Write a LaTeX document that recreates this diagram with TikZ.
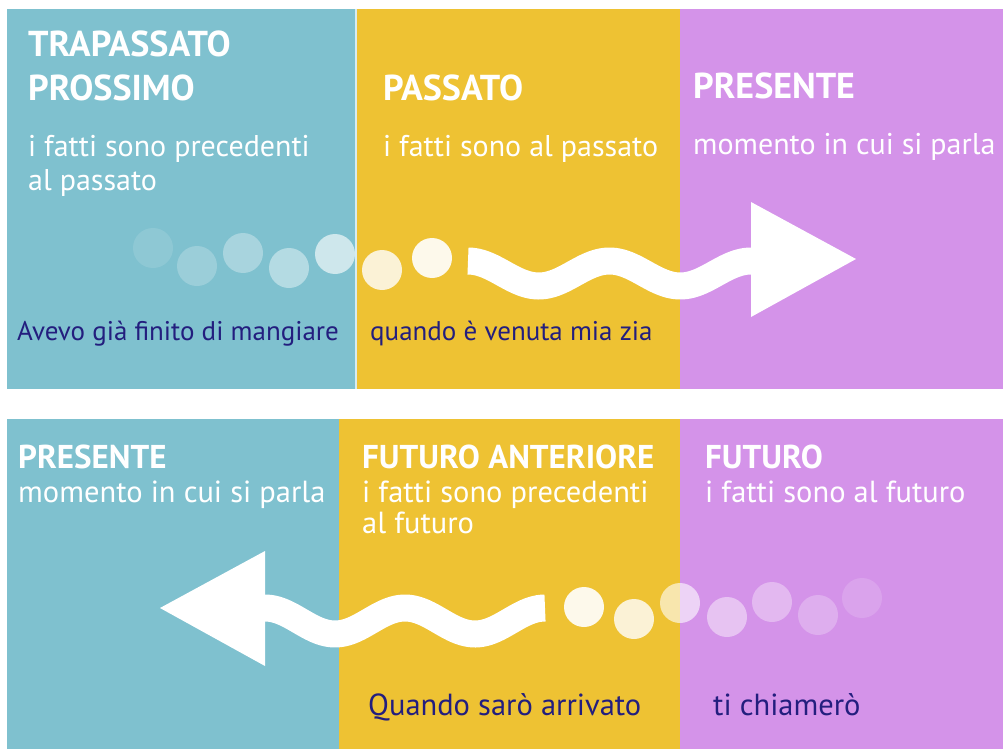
\documentclass[tikz,border=0pt]{standalone}
\usepackage{fontspec}
\setmainfont{PT Sans}
\definecolor{azzurro}{HTML}{7FC1CF}
\definecolor{giallo}{HTML}{EEC233}
\definecolor{lilla}{HTML}{D493E9}
\definecolor{blu}{HTML}{231E7E}
\begin{document}
\begin{tikzpicture}[x=1pt, y=-1pt,
	hdr/.style={anchor=base west, inner sep=0pt, text=white, align=left, font=\fontsize{36}{44}\selectfont\bfseries},
	hdrb/.style={hdr, font=\fontsize{33}{33}\selectfont\bfseries},
	txt/.style={anchor=base west, inner sep=0pt, text=white, align=left, font=\fontsize{30}{34}\selectfont},
	txtb/.style={txt, font=\fontsize{30.5}{31}\selectfont},
	ex/.style={anchor=base west, inner sep=0pt, text=blu, font=\fontsize{27}{27}\selectfont},
	exb/.style={ex, font=\fontsize{30.5}{30.5}\selectfont},
	blob/.style={circle, fill=white, draw=none, inner sep=0pt, minimum size=40pt, fill opacity=#1},
	wave/.style={draw=white, line width=27pt},]
	\useasboundingbox (0,0) rectangle (1003,749);
	% top: passato
	\fill[azzurro] (7,9) rectangle (356,389);
	\fill[giallo] (356,9) rectangle (680,389);
	\fill[lilla] (680,9) rectangle (1003,389);
	\draw[white!70!azzurro, line width=1.5pt] (356,9) -- (356,389);
	\node[hdr] (trap) at (28,101) {TRAPASSATO\\PROSSIMO};
	\node[txt] (trapt) at (28,190) {i fatti sono precedenti\\al passato};
	\node[ex] (trape) at (17,340) {Avevo già finito di mangiare};
	\node[hdr] (pass) at (383,101) {PASSATO};
	\node[txt] (passt) at (383,156) {i fatti sono al passato};
	\node[ex] (passe) at (370,340) {quando è venuta mia zia};
	\node[hdr] (pres) at (693,99) {PRESENTE};
	\node[txt] (prest) at (693,154) {momento in cui si parla};
	\foreach \x/\y/\o [count=\i] in {153/248/0.12, 197/266/0.22, 243/253/0.32, 289/268/0.42,
		335/254/0.62, 382/270/0.8, 432/258/0.9}
		\node[blob=\o] (p\i) at (\x,\y) {};
	\draw[wave] plot[domain=468:752, samples=90] (\x, {273.5-12.5*cos((\x-468)/70.75*180)});
	\coordinate (pa) at (751,202);
	\coordinate (pt) at (856,259);
	\coordinate (pb) at (751,317);
	\fill[white] (pa) -- (pt) -- (pb) -- cycle;
	% bottom: futuro
	\fill[azzurro] (7,419) rectangle (339,749);
	\fill[giallo] (339,419) rectangle (680,749);
	\fill[lilla] (680,419) rectangle (1003,749);
	\node[hdrb] (pres2) at (18,468) {PRESENTE};
	\node[txtb] (pres2t) at (18,502) {momento in cui si parla};
	\node[hdrb] (fant) at (362,468) {FUTURO ANTERIORE};
	\node[txtb] (fantt) at (362,533) {i fatti sono precedenti\\al futuro};
	\node[exb] (fante) at (368,715) {Quando sarò arrivato};
	\node[hdrb] (fut) at (705,468) {FUTURO};
	\node[txtb] (futt) at (705,502) {i fatti sono al futuro};
	\node[exb] (fute) at (713,715) {ti chiamerò};
	\foreach \x/\y/\o [count=\i] in {584/607/0.9, 634/619/0.8, 680/603/0.6, 727/617/0.45,
		772/602/0.35, 818/615/0.25, 862/598/0.15}
		\node[blob=\o] (f\i) at (\x,\y) {};
	\draw[wave] plot[domain=264:545, samples=90] (\x, {621-13*cos((545-\x)/70*180)});
	\coordinate (fa) at (265,551);
	\coordinate (ft) at (160,608);
	\coordinate (fb) at (265,666);
	\fill[white] (fa) -- (ft) -- (fb) -- cycle;
\end{tikzpicture}
\end{document}
